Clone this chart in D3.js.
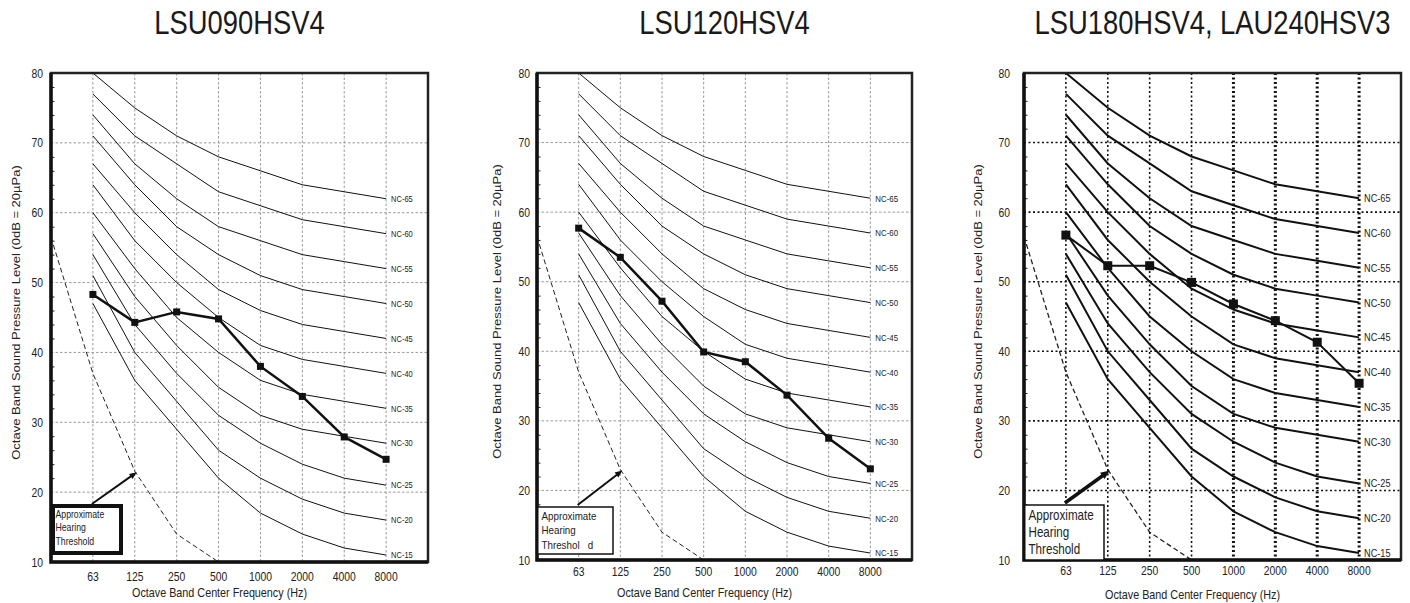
<!DOCTYPE html>
<html>
<head>
<meta charset="utf-8">
<script src="https://cdn.jsdelivr.net/npm/d3@7"></script>
<style>
body { margin: 0; background: #fff; }
text { font-family: "Liberation Sans", Arial, Helvetica, sans-serif; fill: #222; }
</style>
</head>
<body>
<script>

// octave bands, 31.5 and 16000 are only the plot edges
var freqs = ["63", "125", "250", "500", "1000", "2000", "4000", "8000"];
var yTicks = [10, 20, 30, 40, 50, 60, 70, 80];
var yMinor = [12, 14, 16, 18, 22, 24, 26, 28, 32, 34, 36, 38, 42, 44, 46, 48, 52, 54, 56, 58, 62, 64, 66, 68, 72, 74, 76, 78];

var ncNames = ["NC-15", "NC-20", "NC-25", "NC-30", "NC-35", "NC-40", "NC-45", "NC-50", "NC-55", "NC-60", "NC-65"];
var ncLevels = [
    [47, 36, 29, 22, 17, 14, 12, 11],
    [51, 40, 33, 26, 22, 19, 17, 16],
    [54, 44, 37, 31, 27, 24, 22, 21],
    [57, 48, 41, 35, 31, 29, 28, 27],
    [60, 52, 45, 40, 36, 34, 33, 32],
    [64, 56, 50, 45, 41, 39, 38, 37],
    [67, 60, 54, 49, 46, 44, 43, 42],
    [71, 64, 58, 54, 51, 49, 48, 47],
    [74, 67, 62, 58, 56, 54, 53, 52],
    [77, 71, 67, 63, 61, 59, 58, 57],
    [80, 75, 71, 68, 66, 64, 63, 62]
];

var thresholdBands = ["31.5", "63", "125", "250", "500"];
var thresholdLevels = [56.5, 37, 23, 14, 10];

var titles = ["LSU090HSV4", "LSU120HSV4", "LSU180HSV4, LAU240HSV3"];
var spl090 = [48.3, 44.3, 45.8, 44.8, 38.0, 33.7, 27.9, 24.7];
var spl120 = [57.7, 53.5, 47.2, 39.9, 38.5, 33.7, 27.5, 23.1];
var spl180 = [56.7, 52.3, 52.3, 49.9, 46.8, 44.4, 41.3, 35.4];

var boxLines = [
    ["Approximate", "Hearing", "Threshold"],
    ["Approximate", "Hearing", "Threshol   d"],
    ["Approximate", "Hearing", "Threshold"]
];

var svg = d3.select("body").append("svg")
    .attr("width", 1410)
    .attr("height", 603);

// the source picture is squeezed sideways, text too
var SQ = 0.83;

function hText(g, x, y, str, size, anchor) {
    return g.append("text")
        .attr("transform", "translate(" + x + "," + y + ") scale(" + SQ + ",1)")
        .attr("text-anchor", anchor || "start")
        .style("font-size", size + "px")
        .style("white-space", "pre")
        .text(str);
}

var layouts = [
    {left: 51, right: 428, top: 73, bottom: 562, heavy: false, nc: 1, ncFont: 9, mark: 7, line: 2.5,
     tickGap: 8, xTickDy: 19, xLabDy: 35, yLabX: 16, box: {w: 70, y0: 506, y1: 553, sw: 4, font: 10.5, dy: 13.5},
     arrow: {w: 2, head: 8}},
    {left: 537, right: 912, top: 73, bottom: 560, heavy: false, nc: 1, ncFont: 9.5, mark: 7, line: 2.5,
     tickGap: 7, xTickDy: 15.5, xLabDy: 37, yLabX: 497, box: {w: 76, y0: 507, y1: 554, sw: 1.5, font: 11.8, dy: 14.5},
     arrow: {w: 2, head: 8}},
    {left: 1024, right: 1401, top: 73, bottom: 560, heavy: true, nc: 2, ncFont: 11, mark: 9, line: 2,
     tickGap: 14, xTickDy: 14.5, xLabDy: 39, yLabX: 978, box: {w: 80, y0: 505, y1: 560, sw: 1.5, font: 14, dy: 17},
     arrow: {w: 3.5, head: 10}}
];

function drawChart(k, spl) {
    var L = layouts[k];
    var x = d3.scalePoint()
        .domain(["31.5"].concat(freqs, ["16000"]))
        .range([L.left, L.right]);
    var y = d3.scaleLinear().domain([10, 80]).range([L.bottom, L.top]);
    var g = svg.append("g");

    // grid
    var gridCol = L.heavy ? "#111" : "#999";
    g.selectAll(".hg").data(yTicks.slice(1, -1)).enter().append("line")
        .attr("x1", L.left).attr("x2", L.right)
        .attr("y1", function(d){ return y(d); }).attr("y2", function(d){ return y(d); })
        .attr("stroke", gridCol)
        .attr("stroke-width", L.heavy ? 1.6 : 1)
        .attr("stroke-dasharray", L.heavy ? "2,2.5" : "2.5,2");
    g.selectAll(".vg").data(freqs).enter().append("line")
        .attr("x1", function(d){ return x(d); }).attr("x2", function(d){ return x(d); })
        .attr("y1", L.top).attr("y2", L.bottom)
        .attr("stroke", gridCol)
        .attr("stroke-width", function(d, i){ return L.heavy ? (i >= 4 ? 3 : 1.6) : 1; })
        .attr("stroke-dasharray", L.heavy ? "2,2.5" : "2.5,2");

    // minor ticks inside the left axis
    g.append("g")
        .attr("transform", "translate(" + L.left + ",0)")
        .call(d3.axisLeft(y).tickValues(yMinor).tickSize(-3.5).tickFormat(""))
        .call(function(a){ a.select(".domain").remove(); })
        .selectAll("line").attr("stroke", "#222").attr("stroke-width", 1);

    // NC curves
    var line = d3.line()
        .x(function(d, i){ return x(freqs[i]); })
        .y(function(d){ return y(d); });
    g.selectAll(".nc").data(ncLevels).enter().append("path")
        .attr("d", line)
        .attr("fill", "none")
        .attr("stroke", "#111")
        .attr("stroke-width", L.nc);
    ncLevels.forEach(function(row, i){
        hText(g, x("8000") + 5, y(row[7]) + L.ncFont * 0.36, ncNames[i], L.ncFont);
    });

    // hearing threshold
    var tline = d3.line()
        .x(function(d, i){ return x(thresholdBands[i]); })
        .y(function(d){ return y(d); });
    g.append("path")
        .attr("d", tline(thresholdLevels))
        .attr("fill", "none")
        .attr("stroke", "#222")
        .attr("stroke-width", L.heavy ? 1.3 : 1)
        .attr("stroke-dasharray", "5,3");

    // measured spectrum
    g.append("path")
        .attr("d", line(spl))
        .attr("fill", "none")
        .attr("stroke", "#111")
        .attr("stroke-width", L.line);
    g.selectAll(".pt").data(spl).enter().append("rect")
        .attr("x", function(d, i){ return x(freqs[i]) - L.mark / 2; })
        .attr("y", function(d){ return y(d) - L.mark / 2; })
        .attr("width", L.mark).attr("height", L.mark)
        .attr("fill", "#111");

    // frame
    g.append("rect")
        .attr("x", L.left).attr("y", L.top)
        .attr("width", L.right - L.left).attr("height", L.bottom - L.top)
        .attr("fill", "none").attr("stroke", "#222").attr("stroke-width", 2.5);
    g.append("path")
        .attr("d", "M" + L.left + "," + L.top + "V" + L.bottom + "H" + L.right)
        .attr("fill", "none").attr("stroke", "#111").attr("stroke-width", 3.5);

    // label box and arrow
    var B = L.box;
    g.append("rect")
        .attr("x", L.left + B.sw / 2).attr("y", B.y0)
        .attr("width", B.w - B.sw / 2).attr("height", B.y1 - B.y0)
        .attr("fill", "#fff").attr("stroke", "#111").attr("stroke-width", B.sw);
    boxLines[k].forEach(function(s, i){
        hText(g, L.left + 4.5, B.y0 + B.dy * (i + 1) - 2, s, B.font);
    });

    var x0 = x("63") - 1, y0 = B.y0 - 2;
    var x1 = x("125") + 2, y1 = y(thresholdLevels[2]) + 1;
    var ang = Math.atan2(y1 - y0, x1 - x0), h = L.arrow.head;
    g.append("line")
        .attr("x1", x0).attr("y1", y0)
        .attr("x2", x1 - Math.cos(ang) * h * 0.8).attr("y2", y1 - Math.sin(ang) * h * 0.8)
        .attr("stroke", "#111").attr("stroke-width", L.arrow.w);
    g.append("path")
        .attr("d", "M" + x1 + "," + y1 +
            "L" + (x1 - h * Math.cos(ang - 0.4)) + "," + (y1 - h * Math.sin(ang - 0.4)) +
            "L" + (x1 - h * Math.cos(ang + 0.4)) + "," + (y1 - h * Math.sin(ang + 0.4)) + "Z")
        .attr("fill", "#111");

    // tick labels
    yTicks.forEach(function(v){
        hText(g, L.left - L.tickGap, y(v) + 4.5, String(v), 12.5, "end");
    });
    freqs.forEach(function(f){
        hText(g, x(f), L.bottom + L.xTickDy, f, 12.5, "middle");
    });

    // axis titles
    hText(g, (L.left - 40 + L.right) / 2, L.bottom + L.xLabDy, "Octave Band Center Frequency (Hz)", 13, "middle");
    g.append("text")
        .attr("transform", "translate(" + (L.yLabX + 4) + "," + ((L.top + L.bottom) / 2 - 5) + ") scale(" + SQ + ",1) rotate(-90)")
        .attr("text-anchor", "middle")
        .style("font-size", "13px")
        .text("Octave Band Sound Pressure Level (0dB = 20\u00b5Pa)");

    // chart title
    hText(g, (L.left + L.right) / 2, 34, titles[k], 33, "middle").style("fill", "#1a1a1a");
}

drawChart(0, spl090);
drawChart(1, spl120);
drawChart(2, spl180);

</script>
</body>
</html>
